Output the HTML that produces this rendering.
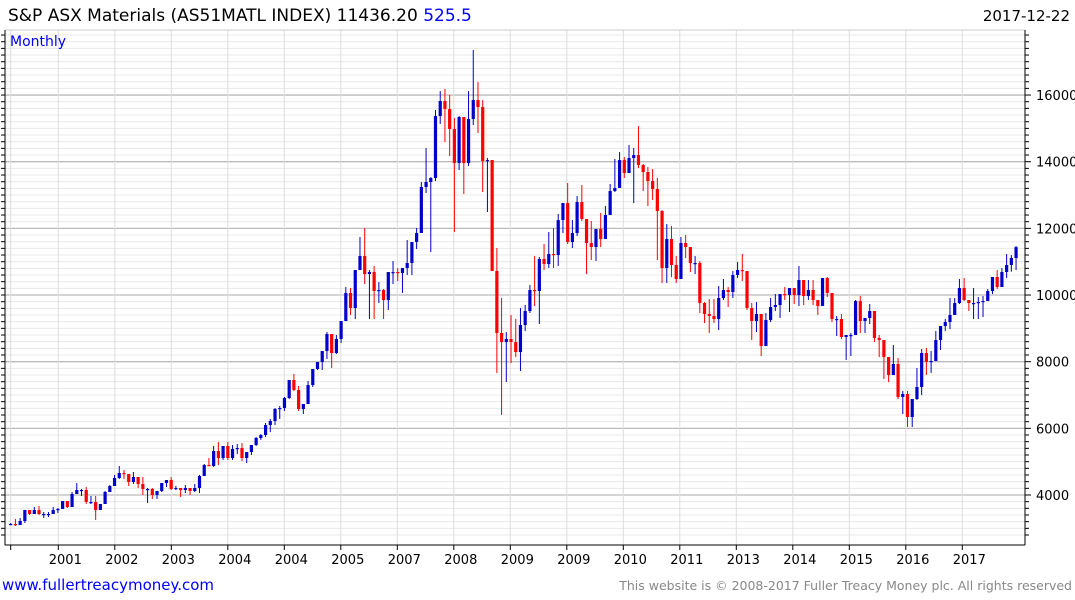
<!DOCTYPE html>
<html><head><meta charset="utf-8"><style>
body{margin:0;background:#fff;width:1075px;height:600px;overflow:hidden;font-family:"DejaVu Sans","Liberation Sans",sans-serif}
svg{display:block;font-family:"DejaVu Sans","Liberation Sans",sans-serif}
</style></head><body>
<svg id="chart" width="1075" height="600">
<text x="8" y="21" font-size="17" fill="#000">S&amp;P ASX Materials (AS51MATL INDEX) 11436.20 <tspan fill="#0000ff">525.5</tspan></text>
<text x="1070" y="21" font-size="15" fill="#000" text-anchor="end">2017-12-22</text>
<text x="2" y="590" font-size="15" fill="#0000ff">www.fullertreacymoney.com</text>
<text x="1072" y="590" font-size="12.5" fill="#888" text-anchor="end">This website is © 2008-2017 Fuller Treacy Money plc. All rights reserved</text>
<g id="grid"></g><g id="axes"></g><g id="candles"></g>
<text x="10" y="46" font-size="14" fill="#0000ff">Monthly</text>
</svg>
<script>
const closes=[3130,3100,3220,3550,3430,3550,3430,3430,3430,3550,3580,3820,3640,4030,4150,4150,3790,3790,3550,3730,4090,4270,4510,4660,4630,4390,4540,4330,4180,4180,4000,4120,4360,4450,4180,4210,4150,4210,4120,4210,4570,4900,4870,5320,5110,5470,5110,5380,5410,5110,5290,5500,5710,5800,6100,6220,6580,6610,6910,7450,7150,6580,6730,7300,7780,7990,8320,8830,8260,8680,9220,10060,9610,10750,11170,10630,10690,10120,10150,9850,10690,10690,10660,10810,10960,11590,11860,13240,13390,13510,15370,15820,15580,14980,13960,15340,13960,15280,15850,15640,14020,14050,10720,8860,8590,8680,8590,8290,9100,9520,10150,10120,11080,10930,11230,11200,12250,12760,11590,11860,12790,12280,11560,11440,11980,11680,12400,13120,13210,14050,13660,14110,14200,13900,13690,13420,13180,12520,10810,11680,10900,10480,11560,11440,10960,10960,9760,9430,9370,9280,9910,10150,10090,10600,10750,10720,9610,9220,9430,8470,9250,9640,9700,10030,10000,10210,10000,10450,9970,10150,9850,9670,10510,10060,9280,9280,8740,8800,8800,9820,9220,9310,9520,8710,8650,8140,7600,7930,6940,7030,6340,6880,7240,8260,7990,8020,8650,9070,9190,9400,9760,10210,9850,9760,9760,9790,9820,10120,10540,10240,10690,10900,11110,11436];
const highs=[3160,3280,3310,3550,3550,3640,3670,3490,3490,3640,3610,3820,3790,4090,4360,4180,4240,3970,3970,3730,4120,4300,4600,4870,4750,4630,4690,4540,4540,4210,4210,4120,4360,4450,4540,4270,4210,4300,4210,4330,4600,4930,5110,5470,5590,5470,5590,5500,5530,5560,5290,5500,5740,5830,6160,6280,6610,6670,6940,7450,7630,7270,6730,7420,7780,7990,8320,8890,8830,8800,9220,10240,10210,10750,11740,12010,10750,10870,10390,10180,10690,11020,10810,10810,11650,11590,12010,13390,14410,13540,15550,16120,16180,16000,15310,15370,15340,16120,17350,16390,15850,14110,13960,11410,9910,8890,9400,9280,9610,9700,10300,11170,11140,11530,11890,12010,12430,12760,13360,12250,12970,13300,12280,12220,11980,12460,12670,13330,14080,14290,14140,14500,14410,15070,13930,13840,13780,13510,12550,12130,12070,11170,11740,11800,11410,11170,11020,9790,9880,9880,10270,10480,10240,10720,10990,11230,10630,9760,9790,9370,9460,9910,10030,10030,10240,10210,10210,10870,10330,10450,10450,9850,10510,10540,10060,9370,9430,8800,8860,9850,9970,9310,9730,9460,8800,8650,8140,8500,8110,7120,7120,6880,7810,8380,8410,8320,8920,9070,9280,9910,9910,10480,10510,9850,10210,9940,9970,10180,10540,10750,10810,11230,11200,11470];
const lows=[3100,3070,3130,3160,3400,3430,3400,3310,3340,3430,3460,3610,3610,3700,4030,3970,3730,3730,3250,3580,3730,4090,4270,4480,4480,4270,4330,4210,4000,3760,3880,3880,4090,4240,4150,4150,3940,4060,4000,4090,4060,4570,4870,4840,4900,5050,5050,5050,5230,5020,4960,5200,5470,5650,5740,5890,6100,6280,6520,6880,7120,6520,6430,6730,7240,7750,7750,8080,7810,8230,8560,9250,9400,9280,10750,10330,9280,9280,9760,9280,9550,10330,10420,10060,10600,10600,11380,12610,13060,11290,13420,15130,14590,14170,11890,13750,13030,13870,15100,14860,13090,12490,10720,7660,6400,7390,7960,8140,7720,8920,9460,9670,9130,10750,10810,10810,10870,11860,11530,11410,11770,12220,10630,11050,11020,11440,11740,12400,13090,13210,13510,13660,12760,13810,13120,12670,12850,11050,10360,10360,10540,10360,10510,11110,10690,10630,9460,9160,8860,9160,8950,9850,9640,9910,10510,10420,9550,8650,8890,8170,8470,9190,9520,9310,9850,9490,9730,9670,9700,9850,9700,9400,9670,9940,9190,8770,8680,8050,8170,8830,8860,8860,9130,8590,8140,7480,7390,7600,6880,6430,6040,6040,6850,7000,7600,7660,8020,8350,8920,8980,9400,9730,9820,9520,9280,9280,9340,9820,10030,10180,10240,10510,10700,10750];
const firstOpen=3130;
const yTicks=[4000,6000,8000,10000,12000,14000,16000];
const xLabels=["2001","2002","2003","2004","2004","2005","2007","2008","2009","2009","2010","2011","2013","2014","2015","2016","2017"];

const NS="http://www.w3.org/2000/svg";
const L=5,R=1025,T=30,B=545;
const yScale=v=>495-(v-4000)*0.03333;
const xScale=i=>10.7+i*4.72;
const gx=k=>58.3+k*56.5;
function mk(tag,attrs,parent){const e=document.createElementNS(NS,tag);for(const k in attrs)e.setAttribute(k,attrs[k]);parent.appendChild(e);return e;}
const grid=document.getElementById('grid'),axes=document.getElementById('axes'),cg=document.getElementById('candles');
for(let v=2800;v<=18000;v+=200){const y=yScale(v);if(y<T||y>B)continue;const major=v%2000===0;
 const ln=mk('line',{x1:L,x2:R,y1:y,y2:y,stroke:major?'#bbb':'#e8e8e8','stroke-width':major?1.3:1},grid);
 
 
 const t=mk('line',{x1:L-4,x2:L,y1:y,y2:y,stroke:'#000'},axes);
 
 
 const t2=mk('line',{x1:R,x2:R+(major?6:4),y1:y,y2:y,stroke:'#000'},axes);
 
 
}
[10.7].concat(xLabels.map((_,k)=>gx(k))).forEach(x=>{const ln=mk('line',{x1:x,x2:x,y1:T,y2:B,stroke:'#ddd'},grid);
 
 
 const t=mk('line',{x1:x,x2:x,y1:B,y2:B+5,stroke:'#000'},axes);
 
 
});
xLabels.forEach((s,k)=>{const t=mk('text',{x:gx(k)+7,y:564,'font-size':13,'text-anchor':'middle',fill:'#000'},axes);t.textContent=s;
 
 
});
yTicks.forEach(v=>{const t=mk('text',{x:1036,y:yScale(v)+5,'font-size':13,fill:'#000'},axes);t.textContent=v;
 
 
});
[[L,T,R,T],[L,B,R,B],[L,T,L,B],[R,T,R,B]].forEach(a=>{const ln=mk('line',{x1:a[0],y1:a[1],x2:a[2],y2:a[3],stroke:a[1]===T&&a[3]===T?'#ccc':'#000'},axes);
 
 
});
closes.forEach((c,i)=>{
 const o=i===0?firstOpen:closes[i-1];
 const h=Math.max(highs[i],o,c),l=Math.min(lows[i],o,c);
 const col=c>=o?'#0000cc':'#ff0000';const x=xScale(i);
 const g=mk('g',{},cg);
 
 
 mk('line',{x1:x,x2:x,y1:yScale(h),y2:yScale(l),stroke:col,'stroke-width':1},g);
 const top=yScale(Math.max(o,c)),bot=yScale(Math.min(o,c));
 mk('rect',{x:x-1.6,y:top,width:3.2,height:Math.max(1.2,bot-top),fill:col},g);
});
</script>
</body></html>
